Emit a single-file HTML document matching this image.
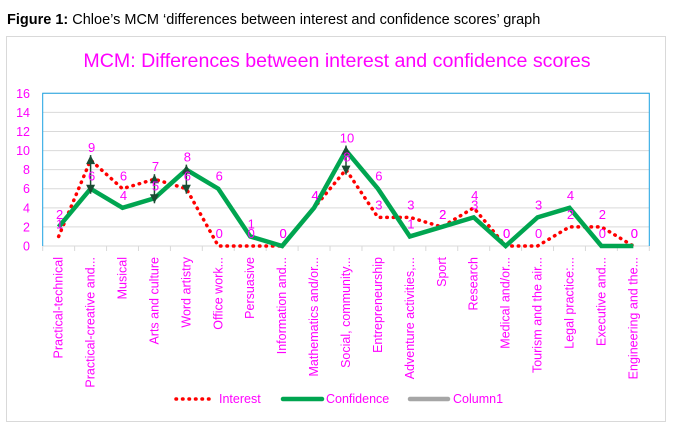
<!DOCTYPE html>
<html><head><meta charset="utf-8">
<style>
body{margin:0;background:#fff;width:674px;height:428px;overflow:hidden;font-family:"Liberation Sans",sans-serif;}
svg text{font-family:"Liberation Sans",sans-serif;}
</style></head><body>
<svg id="chart" width="674" height="428" xmlns="http://www.w3.org/2000/svg">
<text x="7" y="24" font-size="14.5" fill="#000"><tspan font-weight="bold">Figure 1:</tspan> Chloe’s MCM ‘differences between interest and confidence scores’ graph</text>
<rect x="6.5" y="36.5" width="659" height="385" fill="#fff" stroke="#d9d9d9"/>
<text x="337" y="67" font-size="19.6" fill="#ff00ff" text-anchor="middle">MCM: Differences between interest and confidence scores</text>
<g id="grid"></g><g id="axes"></g><g id="marks"></g><g id="labels"></g>
<g>
<line x1="176" y1="399" x2="212" y2="399" stroke="#ff0000" stroke-width="3.5" stroke-dasharray="0.5 6" stroke-linecap="round"/>
<text x="219" y="403" font-size="12.5" fill="#ff00ff">Interest</text>
<line x1="283" y1="399" x2="322" y2="399" stroke="#00a550" stroke-width="4.5" stroke-linecap="round"/>
<text x="326" y="403" font-size="12.5" fill="#ff00ff">Confidence</text>
<line x1="410" y1="399" x2="448" y2="399" stroke="#a6a6a6" stroke-width="4.5" stroke-linecap="round"/>
<text x="453" y="403" font-size="12.5" fill="#ff00ff">Column1</text>
</g>
</svg>
<script>
const categories=["Practical-technical","Practical-creative and...","Musical","Arts and culture","Word artistry","Office work...","Persuasive","Information and...","Mathematics and/or...","Social, community...","Entrepreneurship","Adventure activities,...","Sport","Research","Medical and/or...","Tourism and the air...","Legal practice:...","Executive and...","Engineering and the..."];
const interest=[1,9,6,7,6,0,0,0,4,8,3,3,2,4,0,0,2,2,0];
const confidence=[2,6,4,5,8,6,1,0,4,10,6,1,2,3,0,3,4,0,0];
const arrowCats=[1,3,4,9];
const yTicks=[0,2,4,6,8,10,12,14,16];
const NS="http://www.w3.org/2000/svg";
const L=42.7,R=649.3,T=93.3,B=246;
const bw=(R-L)/categories.length;
function x(i){return L+bw*(i+0.5);}
function y(v){return B-(v/16)*(B-T);}
function el(t,a,p){const e=document.createElementNS(NS,t);for(const k in a)e.setAttribute(k,a[k]);p.appendChild(e);return e;}
const grid=document.getElementById('grid'),axes=document.getElementById('axes'),marks=document.getElementById('marks'),labels=document.getElementById('labels');
yTicks.forEach(v=>{
 const g=el('line',{x1:L,x2:R,y1:y(v),y2:y(v),stroke:'#d9d9d9','stroke-width':1},grid);
 
 
 const t=el('text',{x:30,y:y(v)+4.5,'font-size':12.5,fill:'#ff00ff','text-anchor':'end'},axes);
 t.textContent=v;
 
 
});
const bd=el('path',{d:`M${L},${B} V${T} H${R} V${B}`,fill:'none',stroke:'#1ba1e2','stroke-width':1},axes);


for(let i=0;i<=categories.length;i++){
 const tk=el('line',{x1:L+bw*i,x2:L+bw*i,y1:B,y2:B+5,stroke:'#d9d9d9'},axes);
 
 
}
categories.forEach((c,i)=>{
 const t=el('text',{transform:`translate(${x(i)+4},257) rotate(-90)`,'font-size':12.5,fill:'#ff00ff','text-anchor':'end'},axes);
 t.textContent=c;
 
 
});
const ip=el('polyline',{points:interest.map((v,i)=>x(i)+','+y(v)).join(' '),fill:'none',stroke:'#ff0000','stroke-width':3.5,'stroke-dasharray':'0.5 6','stroke-linecap':'round'},marks);


const cp=el('polyline',{points:confidence.map((v,i)=>x(i)+','+y(v)).join(' '),fill:'none',stroke:'#00a550','stroke-width':4.5,'stroke-linejoin':'miter'},marks);


arrowCats.forEach(i=>{
 const a=Math.max(interest[i],confidence[i]),b=Math.min(interest[i],confidence[i]);
 const xx=x(i),y1=y(a)-5,y2=y(b)+5;
 const g=el('g',{fill:'#1a4d33',stroke:'#1a4d33'},marks);
 
 
 el('line',{x1:xx,x2:xx,y1:y1,y2:y2,'stroke-width':1.5},g);
 el('path',{d:`M${xx-4.5},${y1+9} L${xx},${y1} L${xx+4.5},${y1+9}Z`,stroke:'none'},g);
 el('path',{d:`M${xx-4.5},${y2-9} L${xx},${y2} L${xx+4.5},${y2-9}Z`,stroke:'none'},g);
});
function lab(v,i,name){
 const t=el('text',{x:x(i)+1,y:y(v)-8,'font-size':13,fill:'#ff00ff','text-anchor':'middle'},labels);
 t.textContent=v;
 
 
}
interest.forEach((v,i)=>lab(v,i,'interest-value-label'));
confidence.forEach((v,i)=>lab(v,i,'confidence-value-label'));
</script>
</body></html>
